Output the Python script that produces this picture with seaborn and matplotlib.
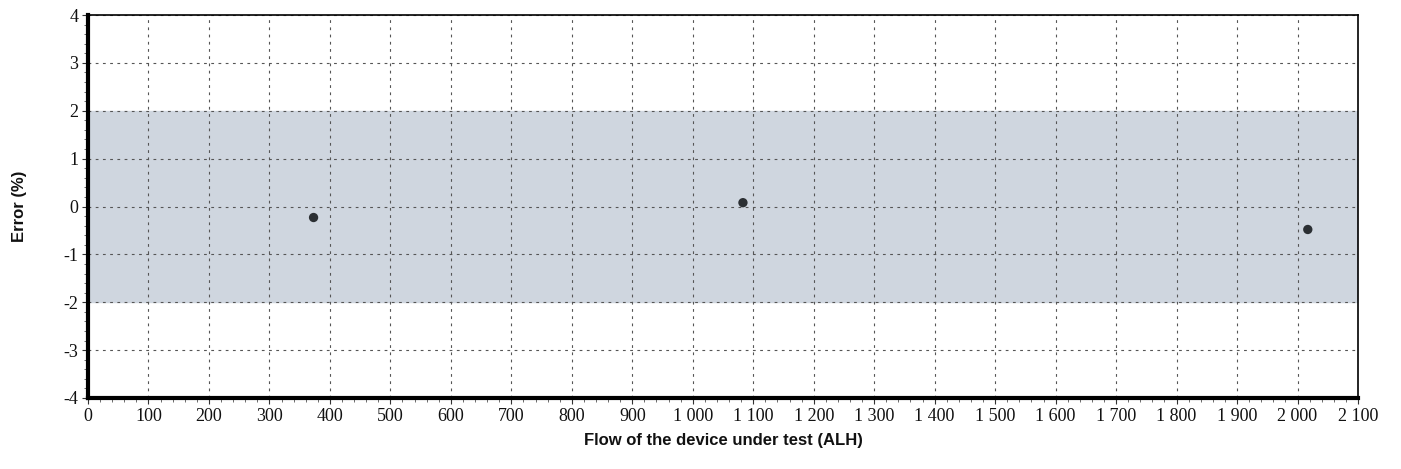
import numpy as np
import matplotlib
matplotlib.use('Agg')
import matplotlib.pyplot as plt
import seaborn as sns
from matplotlib.ticker import MultipleLocator, FuncFormatter

# data
flow = [373, 1083, 2017]
error = [-0.23, 0.08, -0.48]
band_low = -2
band_high = 2

sns.set_theme(style='white')

fig = plt.figure(figsize=(14.01, 4.69), dpi=100)
ax = fig.add_axes([0.0628, 0.1514, 0.9065, 0.8166])

ax.axhspan(band_low, band_high, color='#cfd6df', zorder=0)
sns.scatterplot(x=flow, y=error, ax=ax, color='#2b2f33', s=45, edgecolor='none', zorder=3)

ax.set_xlim(0, 2100)
ax.set_ylim(-4, 4)
ax.xaxis.set_major_locator(MultipleLocator(100))
ax.xaxis.set_minor_locator(MultipleLocator(20))
ax.yaxis.set_major_locator(MultipleLocator(1))
ax.yaxis.set_minor_locator(MultipleLocator(0.2))
ax.xaxis.set_major_formatter(FuncFormatter(lambda v, p: f'{int(v):,}'.replace(',', ' ')))
ax.yaxis.set_major_formatter(FuncFormatter(lambda v, p: f'{int(v)}'))

ax.grid(True, which='major', color='#555555', linestyle=(0, (2.5, 4)), linewidth=0.8, zorder=1)
ax.tick_params(axis='both', which='major', direction='out', length=4, width=0.8, color='#333333',
               labelsize=13, pad=3, labelcolor='#111111')
ax.tick_params(axis='both', which='minor', direction='out', length=3, width=0.6, color='#555555')
ax.tick_params(bottom=True, left=True, which='both')
for lab in ax.get_xticklabels() + ax.get_yticklabels():
    lab.set_fontfamily('Liberation Serif')

for side in ['left', 'bottom']:
    ax.spines[side].set_linewidth(3)
    ax.spines[side].set_color('black')
for side in ['top', 'right']:
    ax.spines[side].set_linewidth(1.2)
    ax.spines[side].set_color('black')

ax.set_xlabel('Flow of the device under test (ALH)', fontfamily='Liberation Sans',
              fontweight='bold', fontsize=12, labelpad=6, color='#111111')
ax.set_ylabel('Error (%)', fontfamily='Liberation Sans', fontweight='bold', fontsize=12,
              labelpad=26, color='#111111')

fig.savefig('out.png', dpi=100)
